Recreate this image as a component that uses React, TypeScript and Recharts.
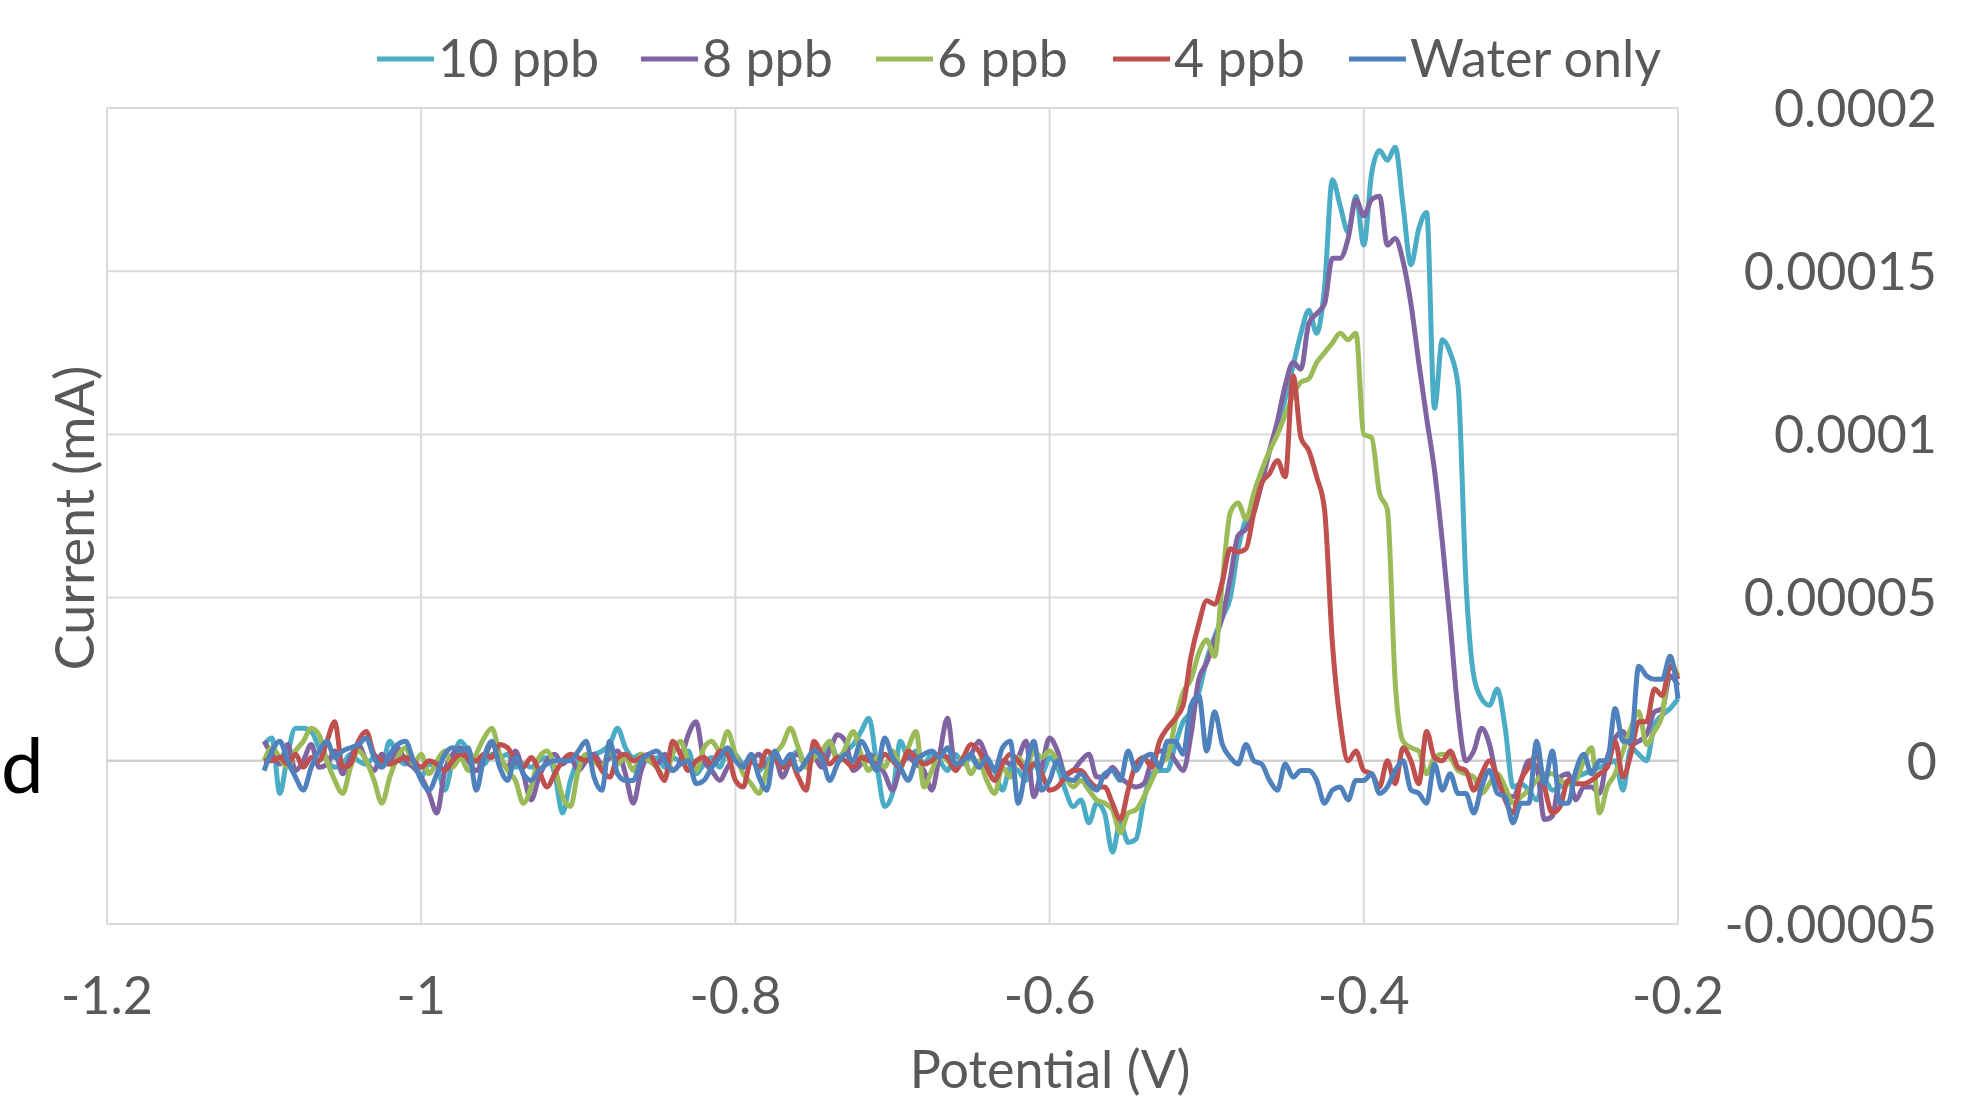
import { LineChart, Line, XAxis, YAxis, CartesianGrid, ReferenceLine } from 'recharts'

// potential (V), one reading every 5 mV
const POTENTIAL_V = [
  -1.1, -1.095, -1.09, -1.085, -1.08, -1.075, -1.07, -1.065, -1.06, -1.055, -1.05, -1.045, -1.04, -1.035, -1.03, -1.025, -1.02, -1.015, -1.01, -1.005,
  -1, -0.995, -0.99, -0.985, -0.98, -0.975, -0.97, -0.965, -0.96, -0.955, -0.95, -0.945, -0.94, -0.935, -0.93, -0.925, -0.92, -0.915, -0.91, -0.905,
  -0.9, -0.895, -0.89, -0.885, -0.88, -0.875, -0.87, -0.865, -0.86, -0.855, -0.85, -0.845, -0.84, -0.835, -0.83, -0.825, -0.82, -0.815, -0.81, -0.805,
  -0.8, -0.795, -0.79, -0.785, -0.78, -0.775, -0.77, -0.765, -0.76, -0.755, -0.75, -0.745, -0.74, -0.735, -0.73, -0.725, -0.72, -0.715, -0.71, -0.705,
  -0.7, -0.695, -0.69, -0.685, -0.68, -0.675, -0.67, -0.665, -0.66, -0.655, -0.65, -0.645, -0.64, -0.635, -0.63, -0.625, -0.62, -0.615, -0.61, -0.605,
  -0.6, -0.595, -0.59, -0.585, -0.58, -0.575, -0.57, -0.565, -0.56, -0.555, -0.55, -0.545, -0.54, -0.535, -0.53, -0.525, -0.52, -0.515, -0.51, -0.505,
  -0.5, -0.495, -0.49, -0.485, -0.48, -0.475, -0.47, -0.465, -0.46, -0.455, -0.45, -0.445, -0.44, -0.435, -0.43, -0.425, -0.42, -0.415, -0.41, -0.405,
  -0.4, -0.395, -0.39, -0.385, -0.38, -0.375, -0.37, -0.365, -0.36, -0.355, -0.35, -0.345, -0.34, -0.335, -0.33, -0.325, -0.32, -0.315, -0.31, -0.305,
  -0.3, -0.295, -0.29, -0.285, -0.28, -0.275, -0.27, -0.265, -0.26, -0.255, -0.25, -0.245, -0.24, -0.235, -0.23, -0.225, -0.22, -0.215, -0.21, -0.205,
  -0.2,
]

// currents in nA (1e-6 mA), same order as POTENTIAL_V
const CURRENT_10PPB = [
  5, 7, -10, 2, 10, 10, 9, 4, 0, -2, -1, 2, 0, -1, 1, -1, 6, 1, -1, 0,
  -5, -1, -2, -9, 0, 6, 3, 0, -1, 2, 1, 2, -2, -1, -2, 0, 1, -4, -16, -6,
  0, 1, 2, 3, 5, 10, 4, 1, 2, 0, 1, -2, 1, 0, 3, -4, -1, 1, -2, 3,
  2, -1, 1, -3, 0, 2, -1, 1, 3, -2, 4, 0, 6, 1, 3, 5, 9, 13, -1, -14,
  -10, 6, 1, 3, -1, 2, 0, -3, 2, -1, 1, -2, 0, -3, -9, -2, -3, -6, -1, -4,
  1, -2, -9, -14, -12, -19, -13, -16, -28, -19, -25, -24, -12, -4, -3, -3, 5, 12, 15, 21,
  31, 38, 44, 50, 65, 74, 77, 87, 95, 103, 111, 121, 131, 138, 131, 145, 178, 170, 162, 173,
  158, 180, 187, 184, 188, 170, 152, 163, 168, 108, 129, 125, 115, 55, 26, 19, 17, 22, 10, -8,
  -7, -9, -12, -6, -9, -8, -7, -5, -4, -3, -2, -1, 0, -9, 4, 2, 0, 11, 14, 16,
  19,
]

const CURRENT_8PPB = [
  6, 2, -1, 5, -3, 0, 5, -2, -1, 3, -4, 1, 5, 0, -3, 2, -1, 4, 0, -2,
  -5, -10, -16, -3, 2, 4, 0, -3, 1, 5, 1, -2, 3, -4, -12, -5, 0, 2, -1, 1,
  -3, 0, 2, -1, 1, 3, -4, -13, -3, 1, -1, 2, -3, 0, 8, 12, 0, -3, -6, -2,
  1, -2, 0, 2, -2, 1, -5, 0, 2, -1, 1, -2, 3, 8, 6, -3, -1, 2, 0, -4,
  -9, -2, 1, -1, -3, -9, 2, 13, -2, 0, 2, 6, 1, -3, 0, -1, 1, 6, -11, -2,
  7, 3, -4, -3, 0, 2, -5, -5, -2, -5, -7, -8, -7, 0, 3, 3, 0, -3, 8, 25,
  30, 37, 44, 56, 69, 71, 76, 85, 95, 104, 115, 122, 120, 134, 137, 140, 154, 154, 160, 172,
  167, 172, 173, 158, 160, 153, 140, 122, 105, 89, 67, 42, 15, 0, 3, 10, 5, -6, -10, -11,
  -6, 0, -2, -18, -17, -5, -4, -12, -8, -8, -10, 1, 7, 9, 5, 6, 8, 15, 16, 26,
  23,
]

const CURRENT_6PPB = [
  0, 4, 1, -2, 3, 6, 10, 8, 0, -6, -10, -2, 3, 0, -6, -13, -5, 1, 4, -1,
  2, -4, 0, 3, -2, 1, -3, 2, 7, 10, 2, -3, -6, -13, -8, 1, 3, -2, -11, -14,
  -3, 2, 0, -2, 3, -1, 1, -3, 2, 0, -2, -5, 2, 6, 0, -3, 4, 6, 3, 9,
  2, -4, -7, -10, -3, 2, 5, 10, 4, -2, 1, 3, 6, 0, 4, 9, 2, -3, 1, -2,
  3, -1, 4, 9, -8, -3, 2, 0, -2, 1, -4, 0, -6, -10, -2, -5, 1, -2, 3, 1,
  3, 0, -5, -8, -6, -9, -12, -13, -15, -22, -16, -15, -11, -6, -1, 1, 12, 21, 25, 33,
  37, 32, 55, 76, 79, 74, 82, 89, 95, 100, 106, 112, 116, 117, 122, 125, 128, 131, 129, 131,
  100, 99, 82, 77, 24, 6, 4, 3, -4, 1, 2, 1, -3, -4, -5, -10, -7, -4, -8, -13,
  -11, -9, -6, -4, -4, -6, -7, -6, 0, 4, -16, -8, -4, 3, 10, 15, 5, 9, 14, 30,
  26,
]

const CURRENT_4PPB = [
  0, 0, 1, -1, 2, -2, 1, 0, 6, 12, -2, -1, 6, 9, 2, 0, -1, 0, 1, 0,
  -2, 0, -1, -3, 0, 2, 1, 0, 2, 1, 5, 4, 0, -2, 1, -3, -8, -4, 0, 2,
  1, 0, 1, -3, -5, 1, 2, 0, 1, 2, -2, -6, 6, 2, -3, 0, 1, -1, 3, 2,
  -6, -8, 0, -2, 3, 1, -2, 0, -5, -9, 6, 2, -1, 1, 0, -2, 1, 0, -1, 2,
  0, -2, 3, 1, -1, 0, 2, 1, -3, 1, 5, 3, -2, -6, -1, 2, 0, -3, -1, -4,
  -9, -8, -5, -3, -3, -6, -8, -8, -13, -18, -9, -1, 1, -2, 6, 10, 13, 17, 32, 42,
  49, 48, 55, 65, 64, 65, 76, 85, 88, 92, 87, 118, 99, 95, 87, 77, 36, 12, 0, 3,
  -3, -4, -8, 0, -7, 4, 0, -7, 9, 1, 0, 3, -2, -3, -9, -4, 0, -5, -12, -16,
  -6, -2, 2, -8, -16, -14, -6, -7, -7, -6, -4, -2, 6, -5, 2, 12, 12, 22, 20, 29,
  25,
]

const CURRENT_WATER = [
  -3, 3, 6, 0, -5, -9, -2, 3, 6, 1, 3, 4, 5, 7, 1, -2, 2, 5, 6, 0,
  -6, -9, -4, 2, 4, 3, 4, -9, 1, 6, -2, -6, 1, -4, -6, -3, -1, 0, 0, 0,
  3, 6, -5, -9, 6, -4, -6, -6, 0, 2, 3, 0, -3, -1, 0, -7, -6, -2, 1, 4,
  0, -2, 2, -5, -9, 3, -1, 2, -3, 0, 3, 1, -6, -1, 2, 0, 6, 2, -3, 7,
  1, -2, -6, 0, 2, 3, 1, 4, -1, 0, 2, -2, 1, -3, 4, 6, -13, -2, 6, -9,
  -6, 0, -5, -6, -4, -7, -9, -4, -3, -6, 3, -3, 1, 2, -2, 6, 6, 2, 17, 20,
  3, 15, 5, 1, -1, 5, 0, -1, -6, -9, -1, -5, -3, -3, -6, -13, -9, -8, -12, -6,
  -6, -4, -10, -8, -3, 0, -9, -10, -13, -1, -9, -4, -10, -10, -16, -8, -3, -10, -11, -19,
  -13, -13, 6, -7, 3, -13, -13, -3, 2, -4, 0, 0, 16, 6, 6, 29, 26, 25, 25, 32,
  19,
]

const X_TICKS = [-1.2, -1, -0.8, -0.6, -0.4, -0.2]
const Y_TICKS = [-50, 0, 50, 100, 150, 200]

const SERIES = [
  { key: 'c10', name: '10 ppb', color: '#4BACC6', values: CURRENT_10PPB },
  { key: 'c8', name: '8 ppb', color: '#8064A2', values: CURRENT_8PPB },
  { key: 'c6', name: '6 ppb', color: '#9BBB59', values: CURRENT_6PPB },
  { key: 'c4', name: '4 ppb', color: '#C0504D', values: CURRENT_4PPB },
  { key: 'water', name: 'Water only', color: '#4F81BD', values: CURRENT_WATER },
]

const FONT = "Lato, 'Open Sans', sans-serif"
const TEXT = '#595959'
const W = 1971
const H = 1098

const rows = POTENTIAL_V.map((v, i) => {
  const r: Record<string, number> = { v }
  SERIES.forEach((s) => (r[s.key] = s.values[i]))
  return r
})

// nA -> mA label
const fmtCurrent = (n: number) => String(n / 1e6)

function XTick(props: any) {
  const { x, payload } = props
  return (
    <text x={x} y={1014} textAnchor="middle" fontFamily={FONT} fontSize={52} fill={TEXT}>
      {String(payload.value)}
    </text>
  )
}

function YTick(props: any) {
  const { y, payload } = props
  return (
    <text x={1937} y={y} dy="0.36em" textAnchor="end" fontFamily={FONT} fontSize={52} fill={TEXT}>
      {fmtCurrent(payload.value)}
    </text>
  )
}

// where each legend entry starts
const LEGEND_X = [377, 641, 876, 1113, 1349]

export default function App() {
  return (
    <div style={{ position: 'absolute', left: 0, top: 0, width: W, height: H, background: '#fff', overflow: 'hidden' }}>
      <LineChart width={W} height={H} data={rows} margin={{ top: 108, right: 0, bottom: 0, left: 107 }}>
        <CartesianGrid stroke="#d9d9d9" strokeWidth={2} />
        <XAxis
          dataKey="v"
          type="number"
          domain={[-1.2, -0.2]}
          ticks={X_TICKS}
          axisLine={false}
          tickLine={false}
          height={174}
          tick={XTick}
          interval={0}
        />
        <YAxis
          orientation="right"
          type="number"
          domain={[-50, 200]}
          ticks={Y_TICKS}
          axisLine={false}
          tickLine={false}
          width={293}
          tick={YTick}
          interval={0}
        />
        <ReferenceLine y={0} stroke="#cccccc" strokeWidth={2} />
        {SERIES.map((s) => (
          <Line
            key={s.key}
            dataKey={s.key}
            name={s.name}
            type="monotone"
            stroke={s.color}
            strokeWidth={5}
            dot={false}
            isAnimationActive={false}
          />
        ))}
      </LineChart>

      <svg width={W} height={H} style={{ position: 'absolute', left: 0, top: 0, pointerEvents: 'none' }}>
        {SERIES.map((s, i) => (
          <g key={s.key}>
            <line x1={LEGEND_X[i]} x2={LEGEND_X[i] + 57} y1={59} y2={59} stroke={s.color} strokeWidth={5} />
            <text x={LEGEND_X[i] + 61} y={77} fontFamily={FONT} fontSize={52} fill={TEXT}>
              {s.name}
            </text>
          </g>
        ))}
        <text
          x={75}
          y={518}
          transform="rotate(-90 75 518)"
          textAnchor="middle"
          dy="0.36em"
          fontFamily={FONT}
          fontSize={54}
          fill={TEXT}
        >
          Current (mA)
        </text>
        <text x={1050} y={1088} textAnchor="middle" fontFamily={FONT} fontSize={52} fill={TEXT}>
          Potential (V)
        </text>
        <text x={1} y={793} fontFamily={FONT} fontSize={76} fill="#000">
          d
        </text>
      </svg>
    </div>
  )
}
